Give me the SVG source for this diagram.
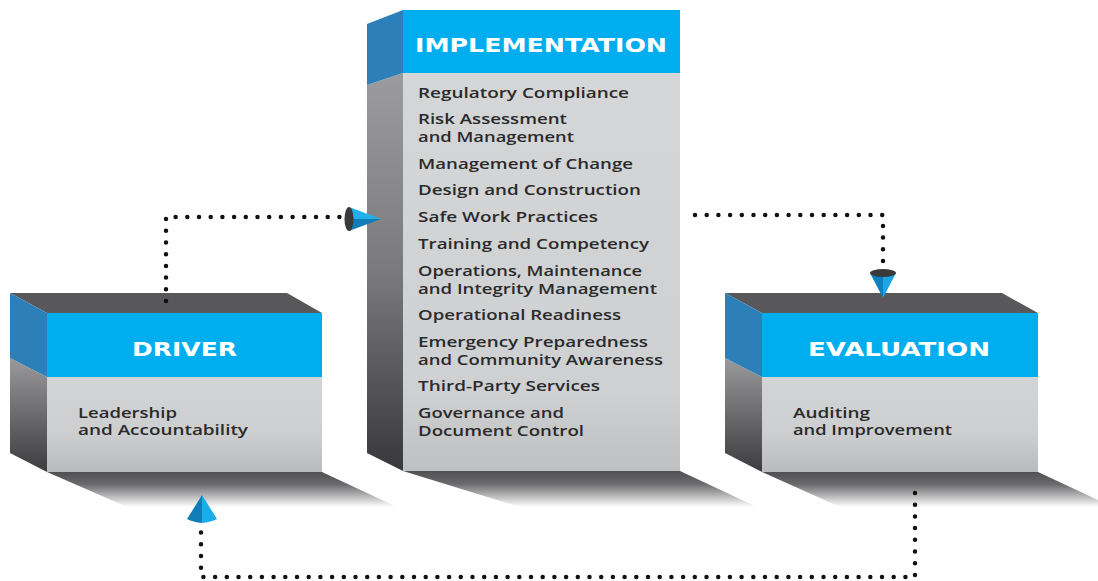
<svg xmlns="http://www.w3.org/2000/svg" width="1098" height="581" viewBox="0 0 1098 581">
<defs>
<linearGradient id="shadow" x1="0" y1="0" x2="0" y2="1">
<stop offset="0" stop-color="#505052"/>
<stop offset="0.35" stop-color="#6a6a6c"/>
<stop offset="1" stop-color="#ffffff"/>
</linearGradient>
<linearGradient id="side" x1="0" y1="0" x2="0" y2="1">
<stop offset="0" stop-color="#9a9a9c"/>
<stop offset="1" stop-color="#3c3c3e"/>
</linearGradient>
<linearGradient id="sideTall" x1="0" y1="0" x2="0" y2="1">
<stop offset="0" stop-color="#9c9c9e"/>
<stop offset="0.5" stop-color="#7a7a7c"/>
<stop offset="1" stop-color="#38383a"/>
</linearGradient>
<linearGradient id="front" x1="0" y1="0" x2="0" y2="1">
<stop offset="0" stop-color="#d3d4d6"/>
<stop offset="0.6" stop-color="#cdcecf"/>
<stop offset="1" stop-color="#b9babc"/>
</linearGradient>
<linearGradient id="frontTall" x1="0" y1="0" x2="0" y2="1">
<stop offset="0" stop-color="#d5d6d8"/>
<stop offset="0.8" stop-color="#cfd0d2"/>
<stop offset="1" stop-color="#bfc0c2"/>
</linearGradient>
</defs>
<style>
.top{fill:#58585a}
.blue{fill:#00aeef}
.sblue{fill:#2d7fba}
.hd{font-family:"DejaVu Sans",sans-serif;font-weight:bold;font-size:20px;fill:#ffffff}
.tx{font-family:"Open Sans","DejaVu Sans",sans-serif;font-weight:600;font-size:14px;fill:#2a2a2a}
.dots{fill:none;stroke:#111;stroke-width:4.5;stroke-linecap:round;stroke-dasharray:0 11.7}
</style>
<rect width="1098" height="581" fill="#ffffff"/>

<g id="shadows">
<polygon points="47,472 322,472 397,507 127,507" fill="url(#shadow)"/>
<polygon points="403,471 680,471 757,507 520,507" fill="url(#shadow)"/>
<polygon points="762,472 1038,472 1098,500 1098,507 840,507" fill="url(#shadow)"/>
</g>

<g id="implementation">
<polygon points="367,85 403,73 403,471 367,453" fill="url(#sideTall)"/>
<polygon class="sblue" points="367,24 403,10 403,73 367,85"/>
<rect x="403" y="73" width="277" height="398" fill="url(#frontTall)"/>
<rect class="blue" x="403" y="10" width="277" height="63"/>
<text class="hd" x="415" y="52" textLength="252" lengthAdjust="spacingAndGlyphs">IMPLEMENTATION</text>
<text class="tx" x="418" y="98" textLength="211" lengthAdjust="spacingAndGlyphs">Regulatory Compliance</text>
<text class="tx" x="418" y="124" textLength="149" lengthAdjust="spacingAndGlyphs">Risk Assessment</text>
<text class="tx" x="418" y="142" textLength="156" lengthAdjust="spacingAndGlyphs">and Management</text>
<text class="tx" x="418" y="169" textLength="215" lengthAdjust="spacingAndGlyphs">Management of Change</text>
<text class="tx" x="418" y="195" textLength="223" lengthAdjust="spacingAndGlyphs">Design and Construction</text>
<text class="tx" x="418" y="222" textLength="180" lengthAdjust="spacingAndGlyphs">Safe Work Practices</text>
<text class="tx" x="418" y="249" textLength="231" lengthAdjust="spacingAndGlyphs">Training and Competency</text>
<text class="tx" x="418" y="276" textLength="224" lengthAdjust="spacingAndGlyphs">Operations, Maintenance</text>
<text class="tx" x="418" y="294" textLength="239" lengthAdjust="spacingAndGlyphs">and Integrity Management</text>
<text class="tx" x="418" y="320" textLength="203" lengthAdjust="spacingAndGlyphs">Operational Readiness</text>
<text class="tx" x="418" y="347" textLength="230" lengthAdjust="spacingAndGlyphs">Emergency Preparedness</text>
<text class="tx" x="418" y="365" textLength="245" lengthAdjust="spacingAndGlyphs">and Community Awareness</text>
<text class="tx" x="418" y="391" textLength="182" lengthAdjust="spacingAndGlyphs">Third-Party Services</text>
<text class="tx" x="418" y="418" textLength="146" lengthAdjust="spacingAndGlyphs">Governance and</text>
<text class="tx" x="418" y="436" textLength="166" lengthAdjust="spacingAndGlyphs">Document Control</text>
</g>

<g id="driver">
<polygon class="top" points="10,293 287,293 322,313 47,313"/>
<polygon points="10,358 47,377 47,472 10,453" fill="url(#side)"/>
<polygon class="sblue" points="10,293 47,313 47,377 10,358"/>
<rect x="47" y="377" width="275" height="95" fill="url(#front)"/>
<rect class="blue" x="47" y="313" width="275" height="64"/>
<text class="hd" x="132" y="356" textLength="105" lengthAdjust="spacingAndGlyphs">DRIVER</text>
<text class="tx" x="78" y="418" textLength="99" lengthAdjust="spacingAndGlyphs">Leadership</text>
<text class="tx" x="78" y="435" textLength="170" lengthAdjust="spacingAndGlyphs">and Accountability</text>
</g>

<g id="evaluation">
<polygon class="top" points="725,293 1002,293 1038,313 762,313"/>
<polygon points="725,358 762,377 762,472 725,453" fill="url(#side)"/>
<polygon class="sblue" points="725,293 762,313 762,377 725,358"/>
<rect x="762" y="377" width="276" height="95" fill="url(#front)"/>
<rect class="blue" x="762" y="313" width="276" height="64"/>
<text class="hd" x="808" y="356" textLength="182" lengthAdjust="spacingAndGlyphs">EVALUATION</text>
<text class="tx" x="793" y="418" textLength="77" lengthAdjust="spacingAndGlyphs">Auditing</text>
<text class="tx" x="793" y="435" textLength="159" lengthAdjust="spacingAndGlyphs">and Improvement</text>
</g>

<g id="connectors">
<polyline class="dots" points="166,301 166,217 342,217"/>
<polyline class="dots" points="695,215 883,215 883,262"/>
<polyline class="dots" points="915,493 915,577 201,577 201,530"/>
<g id="cone-right">
<polygon points="349,207 381,219 349,219" fill="#22b0ea"/>
<polygon points="349,219 381,219 349,231" fill="#0f7db8"/>
<ellipse cx="349" cy="219" rx="4.5" ry="12" fill="#3a3a3c"/>
</g>
<g id="cone-down">
<polygon points="870,273 883,298 883,273" fill="#0f80bf"/>
<polygon points="883,273 883,298 896,273" fill="#1aa6e2"/>
<ellipse cx="883" cy="273" rx="13" ry="4" fill="#3a3a3c"/>
</g>
<g id="cone-up">
<path d="M187,519 L202,495 L202,523 Q193,522 187,519 Z" fill="#0f7db8"/>
<path d="M217,519 L202,495 L202,523 Q211,522 217,519 Z" fill="#1aaee8"/>
</g>
</g>
</svg>
